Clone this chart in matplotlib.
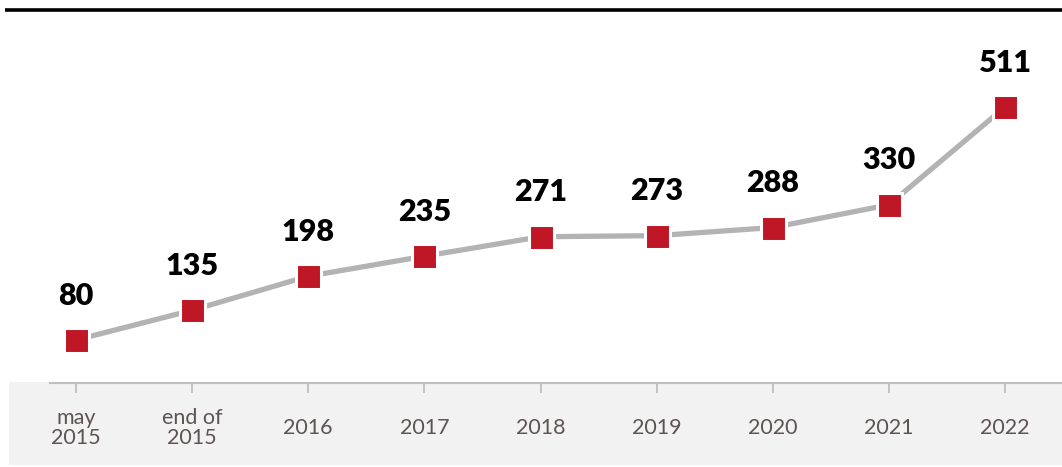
import matplotlib
matplotlib.use("Agg")
import matplotlib.pyplot as plt
from matplotlib.patches import Rectangle
from matplotlib.lines import Line2D

# Data
categories = ["may\n2015", "end of\n2015", "2016", "2017", "2018", "2019", "2020", "2021", "2022"]
values = [80, 135, 198, 235, 271, 273, 288, 330, 511]

W, H, DPI = 1062, 467, 100
fig = plt.figure(figsize=(W / DPI, H / DPI), dpi=DPI)
fig.patch.set_facecolor("white")

# Light grey band behind the category axis
fig.add_artist(Rectangle((9 / W, 2 / H), 1 - 9 / W, (465 - 382) / H,
                         transform=fig.transFigure, facecolor="#f2f2f2",
                         edgecolor="none", zorder=0))
# Heavy rule across the top
fig.add_artist(Line2D([5 / W, 1.0], [1 - 10 / H, 1 - 10 / H],
                      transform=fig.transFigure, color="black", lw=2.6,
                      solid_capstyle="butt", zorder=1))

ax_left = 50 / W
ax_bottom = (H - 383.25) / H
ax_top = 1 - 10 / H
ax = fig.add_axes([ax_left, ax_bottom, 1 - ax_left, ax_top - ax_bottom])
ax.patch.set_visible(False)

x = list(range(len(values)))
ax.plot(x, values, color="#b3b3b3", lw=3.8, zorder=2, solid_capstyle="butt")
ax.plot(x, values, linestyle="none", marker="s", markersize=18,
        markerfacecolor="#c01726", markeredgecolor="white",
        markeredgewidth=2.2, zorder=3)

for xi, v in zip(x, values):
    ax.annotate(f"{v}", (xi, v), xytext=(0, 25.5), textcoords="offset points",
                ha="center", va="baseline", fontsize=22, fontweight="heavy",
                family="Lato", color="black", clip_on=False)

# x scale: first category at 76 px, spacing ~116 px
px_per_cat = (1005 - 76) / 8
ax.set_xlim(-(76 - 50) / px_per_cat, 8 + (W - 1005) / px_per_cat)
ax.set_ylim(0, 690.4)

ax.set_yticks([])
ax.set_xticks(x)
ax.set_xticklabels(categories, family="Lato", fontsize=15.5, color="#5d5454",
                   linespacing=1.0)
for lbl in ax.get_xticklabels():
    lbl.set_verticalalignment("center")
ax.tick_params(axis="x", length=7.2, width=1.3, color="#bfbfbf", pad=25.2)

for side in ["left", "right", "top"]:
    ax.spines[side].set_visible(False)
ax.spines["bottom"].set_color("#bfbfbf")
ax.spines["bottom"].set_linewidth(1.5)

fig.savefig("out.png", dpi=DPI)
